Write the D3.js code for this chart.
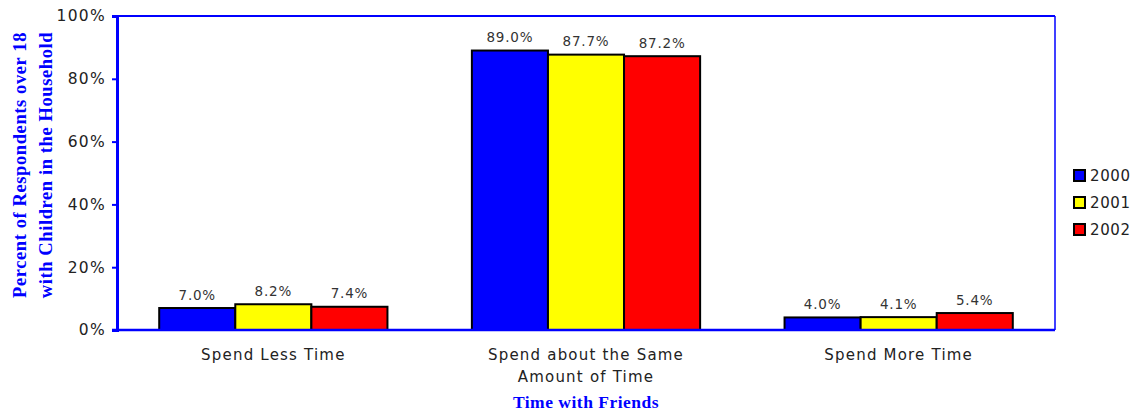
<!DOCTYPE html>
<html><head><meta charset="utf-8">
<script src="https://cdn.jsdelivr.net/npm/d3@7/dist/d3.min.js"></script>
<style>body{margin:0;background:#fff}svg{display:block}</style>
</head><body><svg id="c" width="1144" height="413"></svg>
<script>
const categories = [["Spend Less Time"], ["Spend about the Same", "Amount of Time"], ["Spend More Time"]];
const seriesNames = ["2000", "2001", "2002"];
const values2000 = [7.0, 89.0, 4.0];
const values2001 = [8.2, 87.7, 4.1];
const values2002 = [7.4, 87.2, 5.4];
const colors = ["#0000ff", "#ffff00", "#ff0000"];
const yTicks = [0, 20, 40, 60, 80, 100];

const series = [values2000, values2001, values2002];
const svg = d3.select("#c");
const L = 117, R = 1055, T = 16, B = 330;
const font = "'DejaVu Sans', Verdana, sans-serif";
const serif = "'Liberation Serif', 'Times New Roman', serif";

const x0 = d3.scaleBand().domain(d3.range(categories.length)).range([L, R]).padding(0);
const bw = x0.bandwidth();
const x1 = d3.scaleBand().domain(d3.range(seriesNames.length)).range([bw * 0.135, bw * 0.865]).padding(0);
const y = d3.scaleLinear().domain([0, 100]).range([B, T]);

// frame
svg.append("line").attr("x1", L).attr("x2", R).attr("y1", T).attr("y2", T).attr("stroke", "#0000ff").attr("stroke-width", 2);
svg.append("line").attr("x1", R).attr("x2", R).attr("y1", T).attr("y2", B).attr("stroke", "#0000ff").attr("stroke-width", 1.5);

// bars
const g = svg.append("g");
categories.forEach((c, i) => {
  series.forEach((s, j) => {
    g.append("rect")
      .attr("x", x0(i) + x1(j))
      .attr("y", y(s[i]))
      .attr("width", x1.bandwidth())
      .attr("height", B - y(s[i]))
      .attr("fill", colors[j])
      .attr("stroke", "#000").attr("stroke-width", 2);
    g.append("text")
      .attr("x", x0(i) + x1(j) + x1.bandwidth() / 2)
      .attr("y", y(s[i]) - 8.5)
      .attr("text-anchor", "middle")
      .attr("font-family", font).attr("font-size", 13.5)
      .attr("fill", "#333").attr("letter-spacing", 0.8)
      .text(s[i].toFixed(1) + "%");
  });
});

// y axis
const yAxis = svg.append("g").attr("transform", `translate(${L},0)`)
  .call(d3.axisLeft(y).tickValues(yTicks).tickSize(5).tickPadding(6).tickFormat(d => d + "%"));
yAxis.select(".domain").attr("stroke", "#0000ff").attr("stroke-width", 3);
yAxis.selectAll(".tick line").attr("stroke", "#0000ff").attr("stroke-width", 2);
yAxis.selectAll(".tick text").attr("font-family", font).attr("font-size", 15.5)
  .attr("letter-spacing", 1.3).attr("fill", "#222");

// x axis baseline
const xAxis = svg.append("g").attr("transform", `translate(0,${B})`)
  .call(d3.axisBottom(x0).tickSize(0).tickFormat(""));
xAxis.select(".domain").attr("stroke", "#0000ff").attr("stroke-width", 2.5).attr("d", `M${L - 5},0H${R}`);

// category labels
categories.forEach((c, i) => {
  const t = svg.append("text").attr("x", x0(i) + bw / 2).attr("y", 360)
    .attr("text-anchor", "middle").attr("font-family", font).attr("font-size", 15)
    .attr("letter-spacing", 1.2).attr("fill", "#222");
  c.forEach((line, k) => t.append("tspan").attr("x", x0(i) + bw / 2).attr("dy", k === 0 ? 0 : 22).text(line));
});

// axis titles
svg.append("text").attr("x", 586).attr("y", 408).attr("text-anchor", "middle")
  .attr("font-family", serif).attr("font-weight", "bold").attr("letter-spacing", 0.5)
  .attr("font-size", 17.5).attr("fill", "#0000ff").text("Time with Friends");
const yt = svg.append("text").attr("transform", "translate(26,165) rotate(-90)").attr("text-anchor", "middle")
  .attr("font-family", serif).attr("font-weight", "bold").attr("letter-spacing", 0.6)
  .attr("font-size", 18.5).attr("fill", "#0000ff");
yt.append("tspan").attr("x", 0).attr("dy", 0).text("Percent of Respondents over 18");
yt.append("tspan").attr("x", 0).attr("dy", 26).text("with Children in the Household");

// legend
const lg = svg.append("g").attr("transform", "translate(1074,170)");
seriesNames.forEach((n, j) => {
  lg.append("rect").attr("x", 0).attr("y", j * 27).attr("width", 11).attr("height", 11)
    .attr("fill", colors[j]).attr("stroke", "#000").attr("stroke-width", 2);
  lg.append("text").attr("x", 16).attr("y", j * 27 + 11).attr("font-family", font)
    .attr("font-size", 15).attr("letter-spacing", 0.6).attr("fill", "#222").text(n);
});
</script></body></html>
